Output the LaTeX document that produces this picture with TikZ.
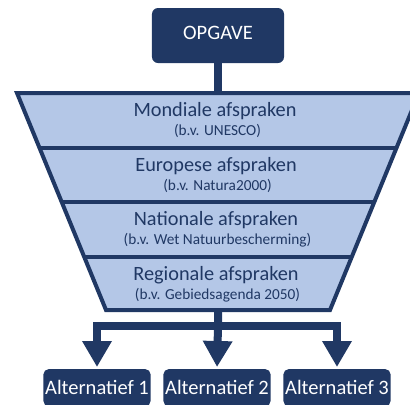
\documentclass[tikz,border=0pt]{standalone}
\usepackage{fontspec}
\setmainfont{Carlito}
\usetikzlibrary{arrows.meta}
\definecolor{navy}{HTML}{203864}
\definecolor{band}{HTML}{B4C7E7}
\begin{document}
\begin{tikzpicture}[x=1bp,y=-1bp,
  darkbox/.style={draw=none,fill=navy,text=white,rounded corners=6bp,inner sep=0pt,
    font=\fontsize{20.5bp}{22bp}\selectfont},
  maintext/.style={anchor=base,text=navy,inner sep=0pt,font=\fontsize{20.3bp}{22bp}\selectfont},
  subtext/.style={anchor=base,text=navy,inner sep=0pt,font=\fontsize{15.3bp}{17bp}\selectfont},
  edge/.style={draw=navy,line width=4bp,line join=miter},
  conn/.style={draw=navy,line width=8bp,line join=miter},
  arr/.style={conn,-{Triangle[width=28bp,length=26bp]},shorten >=2bp}]
\useasboundingbox (0,0) rectangle (410,405);
% funnel bands
\fill[band] (17,93) -- (419,93) -- (330,310) -- (106,310) -- cycle;
\draw[edge] (39.55,148) -- (396.45,148);
\draw[edge] (61.7,202) -- (374.3,202);
\draw[edge] (84.2,257) -- (351.8,257);
\draw[edge] (17,93) -- (419,93) -- (330,310) -- (106,310) -- cycle;
\coordinate (ftop) at (218,93);
\coordinate (fbot) at (218,310);
\coordinate (split) at (218,326);
% texts
\node[maintext] (b1) at (215,116) {Mondiale afspraken};
\node[subtext] (b1s) at (217.5,135.7) {(b.v. UNESCO)};
\node[maintext] (b2) at (216,171) {Europese afspraken};
\node[subtext] (b2s) at (217.5,190.7) {(b.v. Natura2000)};
\node[maintext] (b3) at (216,225) {Nationale afspraken};
\node[subtext] (b3s) at (217.5,244.7) {(b.v. Wet Natuurbescherming)};
\node[maintext] (b4) at (216,280) {Regionale afspraken};
\node[subtext] (b4s) at (217.5,299.7) {(b.v. Gebiedsagenda 2050)};
% boxes
\node[darkbox,text depth=5bp,minimum width=132bp,minimum height=55bp] (opg) at (218,35.5) {OPGAVE};
\node[darkbox,rounded corners=5bp,minimum width=107bp,minimum height=37bp,anchor=north] (a1) at (97,369) {Alternatief 1};
\node[darkbox,rounded corners=5bp,minimum width=107bp,minimum height=37bp,anchor=north] (a2) at (217,369) {Alternatief 2};
\node[darkbox,rounded corners=5bp,minimum width=107bp,minimum height=37bp,anchor=north] (a3) at (337,369) {Alternatief 3};
% connectors
\draw[conn] (opg.south) -- (ftop);
\draw[arr] (fbot) -- (split) -- (a2.north);
\draw[arr] (split) -| (a1.north);
\draw[arr] (split) -| (a3.north);
\end{tikzpicture}
\end{document}
